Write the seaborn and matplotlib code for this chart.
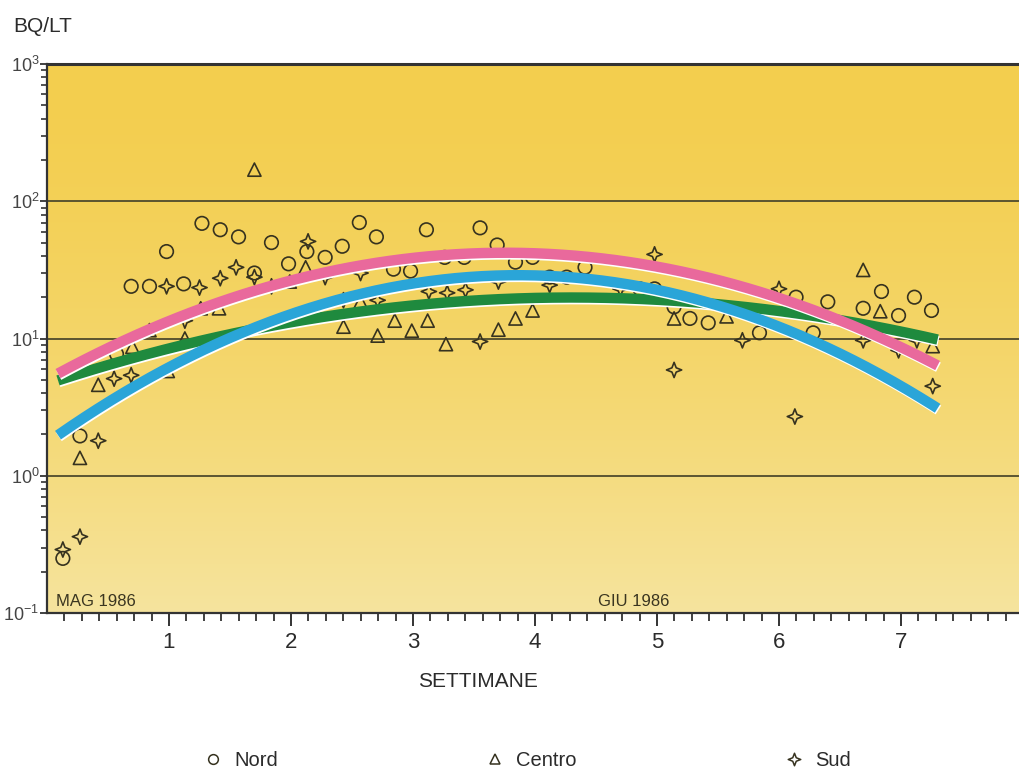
import numpy as np
import pandas as pd
import matplotlib
matplotlib.use("Agg")
import matplotlib.pyplot as plt
import matplotlib.patheffects as pe
from matplotlib.path import Path
from matplotlib.lines import Line2D
from matplotlib.ticker import LogLocator, FixedLocator, NullFormatter, LogFormatterSciNotation
import seaborn as sns

# ---- measurements (weeks since start of May 1986, Bq per litre) ----
nord_x = [0.13, 0.27, 0.57, 0.69, 0.84, 0.98, 1.12, 1.27, 1.42, 1.57, 1.70, 1.84,
          1.98, 2.13, 2.28, 2.42, 2.56, 2.70, 2.84, 2.98, 3.11, 3.26, 3.42, 3.55,
          3.69, 3.84, 3.98, 4.12, 4.26, 4.41, 4.86, 4.98, 5.14, 5.27, 5.42, 5.70,
          5.84, 6.14, 6.28, 6.40, 6.69, 6.84, 6.98, 7.11, 7.25]
nord_y = [0.25, 1.95, 7.7, 24, 24, 43, 25, 69, 62, 55, 30, 50,
          35, 43, 39, 47, 70, 55, 32, 31, 62, 39, 39, 64,
          48, 36, 39, 28, 28, 33, 23, 23, 17, 14, 13, 16,
          11, 20, 11, 18.5, 16.6, 22, 14.7, 20, 16]

centro_x = [0.27, 0.42, 0.70, 0.84, 0.99, 1.13, 1.26, 1.41, 1.70, 1.99, 2.12, 2.43,
            2.57, 2.71, 2.85, 2.99, 3.12, 3.27, 3.70, 3.84, 3.98, 5.14, 5.57, 6.69,
            6.83, 7.26]
centro_y = [1.35, 4.6, 8.7, 11.5, 5.8, 10, 16.6, 16.6, 170, 26, 33, 12.2,
            18.5, 10.5, 13.5, 11.4, 13.5, 9.1, 11.6, 14, 16, 14, 14.5, 31.6,
            15.8, 8.8]

sud_x = [0.13, 0.27, 0.42, 0.55, 0.69, 0.98, 1.13, 1.25, 1.42, 1.55, 1.70, 1.84,
         2.14, 2.28, 2.43, 2.57, 2.71, 3.13, 3.28, 3.43, 3.55, 3.70, 4.12, 4.70,
         4.98, 5.14, 5.70, 6.00, 6.13, 6.69, 6.98, 7.13, 7.26]
sud_y = [0.29, 0.36, 1.8, 5.1, 5.4, 24, 13.5, 23.5, 27.5, 33, 28, 24,
         51, 28, 19, 30, 19, 22, 21.5, 22.6, 9.5, 26, 24.5, 23,
         41, 5.9, 9.7, 23, 2.7, 9.7, 8.2, 9.7, 4.5]

# ---- trend curves, sampled values ----
trend_x = [0.09, 0.57, 1.23, 2.05, 2.70, 3.20, 4.02, 4.67, 5.33, 5.98, 6.64, 7.30]
trend_nord = [6.3, 8.7, 13.5, 27.7, 36.7, 41, 43.5, 38, 28, 21, 11.4, 6.4]
trend_sud = [2.3, 3.5, 6.3, 16.5, 23, 28, 30.6, 25, 17.4, 13.5, 6.8, 3.0]
trend_centro = [5.3, 6.4, 8.9, 13.3, 16.5, 18.5, 20.1, 19.8, 18, 16.2, 12.8, 9.8]

week_ticks = [1, 2, 3, 4, 5, 6, 7]
series_names = ["Nord", "Centro", "Sud"]

INK = "#36321f"
TEXT = "#2b2b2b"
PINK = "#e9699c"
BLUE = "#2aa5d8"
GREEN = "#1f8a3e"

sns.set_theme(style="white")
plt.rcParams["font.family"] = ["Liberation Sans", "DejaVu Sans"]
plt.rcParams["mathtext.fontset"] = "custom"
plt.rcParams["mathtext.rm"] = "Liberation Sans"
plt.rcParams["mathtext.it"] = "Liberation Sans"
plt.rcParams["mathtext.default"] = "regular"

# four-pointed star marker with concave sides
star = Path([(0, 1), (0.28, 0.28), (1, 0), (0.28, -0.28), (0, -1),
             (-0.28, -0.28), (-1, 0), (-0.28, 0.28), (0, 1)],
            [Path.MOVETO] + [Path.LINETO] * 7 + [Path.CLOSEPOLY])

W, H = 1019, 774
fig = plt.figure(figsize=(W / 100, H / 100), dpi=100)
fig.patch.set_facecolor("white")

left_px, right_px, top_px, bot_px = 47, 1019, 64, 613
rect = [left_px / W, 1 - bot_px / H, (right_px - left_px) / W, (bot_px - top_px) / H]

# yellow background with vertical fade
bg = fig.add_axes(rect, zorder=0)
bg.axis("off")
t = np.linspace(0, 1, 300) ** 1.6
top_c = np.array([243, 206, 78]) / 255
bot_c = np.array([246, 228, 158]) / 255
grad = top_c[None, :] + (bot_c - top_c)[None, :] * t[:, None]
bg.imshow(grad[:, None, :], aspect="auto", extent=[0, 1, 0, 1], interpolation="bilinear")
bg.set_xlim(0, 1)
bg.set_ylim(0, 1)

ax = fig.add_axes(rect, zorder=1)
ax.set_facecolor("none")
ax.set_yscale("log")
ax.set_ylim(0.1, 1000)
ax.set_xlim(0, (right_px - left_px) / 122)

# decade grid lines
for v in [1, 10, 100]:
    ax.axhline(v, color="#4e4a2c", lw=1.3, zorder=1)

# scatter of the three regions
df = pd.concat([
    pd.DataFrame({"x": nord_x, "y": nord_y, "Regione": "Nord"}),
    pd.DataFrame({"x": centro_x, "y": centro_y, "Regione": "Centro"}),
    pd.DataFrame({"x": sud_x, "y": sud_y, "Regione": "Sud"}),
])
markers = {"Nord": "o", "Centro": "^", "Sud": star}
sizes = {"Nord": 95, "Centro": 90, "Sud": 120}
for name in series_names:
    sub = df[df["Regione"] == name]
    sns.scatterplot(data=sub, x="x", y="y", marker=markers[name], s=sizes[name],
                    facecolor="none", edgecolor=INK, linewidth=1.2, ax=ax,
                    zorder=3, legend=False)
for coll in ax.collections:
    coll.set_facecolor("none")
    coll.set_edgecolor(INK)

# fitted trend bands
dense = np.linspace(trend_x[0], trend_x[-1], 200)
for vals, col in [(trend_centro, GREEN), (trend_sud, BLUE), (trend_nord, PINK)]:
    coef = np.polyfit(trend_x, np.log10(vals), 2)
    yy = 10 ** np.polyval(coef, dense)
    sns.lineplot(x=dense, y=yy, color=col, linewidth=7.5, ax=ax, zorder=4,
                 estimator=None, sort=False, solid_capstyle="butt",
                 path_effects=[pe.SimpleLineShadow(offset=(0.6, -1.2), shadow_color="white",
                                                   alpha=1.0),
                               pe.Normal()])

# axes styling
for side in ["left", "bottom", "top"]:
    ax.spines[side].set_visible(True)
    ax.spines[side].set_color("#333333")
ax.spines["top"].set_linewidth(2.2)
ax.spines["left"].set_linewidth(1.6)
ax.spines["bottom"].set_linewidth(1.6)
ax.spines["right"].set_visible(False)

ax.xaxis.set_major_locator(FixedLocator(week_ticks))
ax.xaxis.set_minor_locator(FixedLocator(np.arange(1, 56) / 7))
ax.set_xticklabels([str(v) for v in week_ticks])
ax.tick_params(axis="x", which="major", direction="out", length=9, width=1.4,
               color="#333333", pad=5, labelsize=16, labelcolor=TEXT, bottom=True)
ax.tick_params(axis="x", which="minor", direction="out", length=6, width=1.3,
               color="#333333", bottom=True)
for lab in ax.get_xticklabels():
    lab.set_family(["Liberation Sans Narrow", "Liberation Sans", "DejaVu Sans"])

ax.yaxis.set_major_locator(LogLocator(base=10, numticks=10))
ax.yaxis.set_minor_locator(LogLocator(base=10, subs=np.arange(2, 10), numticks=20))
ax.yaxis.set_major_formatter(LogFormatterSciNotation())
ax.yaxis.set_minor_formatter(NullFormatter())
ax.tick_params(axis="y", which="major", direction="out", length=5, width=1.3,
               color="#333333", pad=0.5, labelsize=13, labelcolor="#444444", left=True)
ax.tick_params(axis="y", which="minor", direction="out", length=4, width=1.2,
               color="#333333", left=True)

ax.set_xlabel("SETTIMANE", fontsize=15, color=TEXT)
ax.xaxis.set_label_coords(((478 - left_px) / (right_px - left_px)), -0.108)
ax.set_ylabel("")

fig.text(13 / W, 1 - 32 / H, "BQ/LT", fontsize=15, color=TEXT, ha="left", va="baseline")

blend = ax.get_xaxis_transform()
ax.text(0.07, 0.008, "MAG 1986", transform=blend, fontsize=12, color="#3a3520",
        ha="left", va="bottom", zorder=5)
ax.text(4.52, 0.008, "GIU 1986", transform=blend, fontsize=12, color="#3a3520",
        ha="left", va="bottom", zorder=5)

# legend below the chart
handles = [Line2D([], [], ls="", marker=markers[n], markersize=ms, markerfacecolor="none",
                  markeredgecolor=INK, markeredgewidth=1.1)
           for n, ms in zip(series_names, [7, 7, 9])]
fig.legend(handles, series_names, loc="center", bbox_to_anchor=(527 / W, 1 - 761 / H),
           ncol=3, frameon=False, fontsize=14.5, handlelength=1.0, handletextpad=0.55,
           columnspacing=10.3, labelcolor=TEXT)

fig.savefig("out.png", dpi=100)
